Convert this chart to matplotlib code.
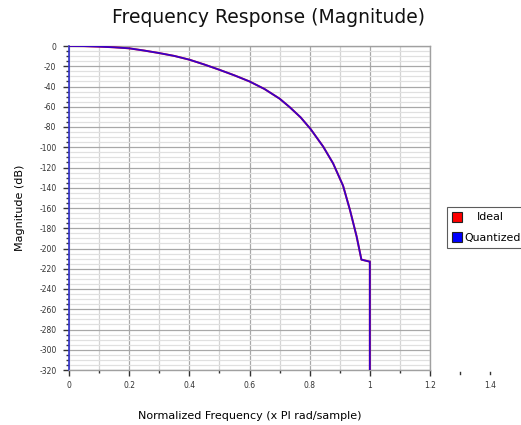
import matplotlib
matplotlib.use("Agg")
import matplotlib.pyplot as plt
from matplotlib.ticker import MultipleLocator
from matplotlib.lines import Line2D

# Data
freq = [0.0, 0.05, 0.1, 0.15, 0.2, 0.25, 0.3, 0.35, 0.4, 0.45, 0.5, 0.55, 0.6,
        0.65, 0.7, 0.734, 0.77, 0.803, 0.845, 0.878, 0.911, 0.934, 0.956, 0.972,
        1.0, 1.0]
ideal_db = [0.0, -0.1, -0.6, -1.3, -2.3, -4.5, -7.0, -9.8, -13.5, -18.3, -23.5,
            -29.0, -35.0, -42.5, -52.0, -60.5, -70.5, -82.0, -99.4, -116.0,
            -138.0, -162.0, -188.0, -211.0, -213.0, -320.0]
quantized_db = list(ideal_db)

series_names = ["Ideal", "Quantized"]
series_colors = ["#ff0000", "#0000ff"]

x_ticks = [0, 0.2, 0.4, 0.6, 0.8, 1, 1.2]
x_tick_labels = ["0", "0.2", "0.4", "0.6", "0.8", "1", "1.2"]
extra_x_label = (1.4, "1.4")
y_ticks = list(range(0, -321, -20))

fig = plt.figure(figsize=(5.21, 4.25), dpi=100)
ax = fig.add_axes([69/521, 1-370/425, (430-69)/521, (370-46)/425])

ax.plot(freq, ideal_db, color=series_colors[0], lw=1.4, zorder=3)
ax.plot(freq, quantized_db, color=series_colors[1], lw=1.3, alpha=0.78, zorder=4)

ax.set_xlim(0, 1.2)
ax.set_ylim(-320, 0)
ax.set_xticks(x_ticks)
ax.set_xticklabels(x_tick_labels)
ax.xaxis.set_minor_locator(MultipleLocator(0.1))
ax.set_yticks(y_ticks)
ax.set_yticklabels([str(v) for v in y_ticks])
ax.yaxis.set_minor_locator(MultipleLocator(5))

ax.grid(which="major", axis="x", color="#a8a8a8", lw=0.9)
ax.grid(which="minor", axis="x", color="#d4d4d4", lw=0.9)
ax.grid(which="major", axis="y", color="#a8a8a8", lw=0.9)
ax.grid(which="minor", axis="y", color="#e0e0e0", lw=0.9)
ax.set_axisbelow(True)

ax.tick_params(axis="both", which="major", labelsize=5.5, colors="#333333",
               length=4, width=1.0, pad=5)
ax.tick_params(axis="both", which="minor", length=2.5, width=1.0, colors="#333333")
ax.tick_params(axis="x", pad=4)

for side in ["top", "right", "bottom"]:
    ax.spines[side].set_color("#a0a0a0")
    ax.spines[side].set_linewidth(1.0)
ax.spines["left"].set_color("#3333cc")
ax.spines["left"].set_linewidth(1.2)

# extra tick label beyond the axis range
ax.text(extra_x_label[0]/1.2, -0.033, extra_x_label[1], transform=ax.transAxes,
        ha="center", va="top", fontsize=5.5, color="#333333", clip_on=False)
for xv in [1.3, 1.4]:
    ax.plot([xv/1.2, xv/1.2], [-0.012, -0.006], transform=ax.transAxes,
            color="#333333", lw=1.0, clip_on=False)

ax.set_xlabel("Normalized Frequency (x PI rad/sample)", fontsize=8, labelpad=15)
ax.set_ylabel("Magnitude (dB)", fontsize=8, labelpad=10)
fig.text(0.515, 0.958, "Frequency Response (Magnitude)", ha="center", va="center",
         fontsize=13.5, color="#111111")

handles = [Line2D([], [], marker="s", linestyle="none", markersize=7,
                  markerfacecolor=c, markeredgecolor="#222222", markeredgewidth=0.8)
           for c in series_colors]
leg = fig.legend(handles, series_names, loc="upper left",
                 bbox_to_anchor=(447/521, 1-207/425), fontsize=7.9,
                 frameon=True, fancybox=False, handlelength=0.8,
                 handletextpad=0.3, borderpad=0.5, labelspacing=0.95,
                 borderaxespad=0)
leg.get_frame().set_edgecolor("#333333")
leg.get_frame().set_linewidth(0.8)
leg.get_texts()[0].set_position((12, 0))

fig.savefig("out.png", dpi=100)
